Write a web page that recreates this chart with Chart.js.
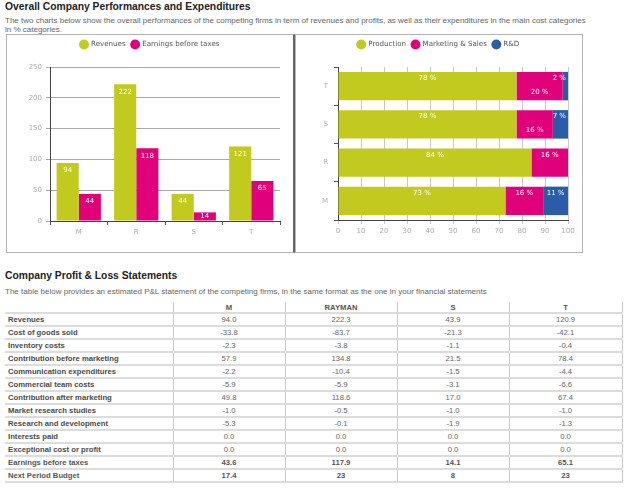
<!DOCTYPE html>
<html>
<head>
<meta charset="utf-8">
<script src="https://cdn.jsdelivr.net/npm/chart.js@4.4.0/dist/chart.umd.min.js"></script>
<style>
  html, body { margin:0; padding:0; background:#fff; width:627px; height:490px; overflow:hidden; }
  body { position:relative; font-family: "Liberation Sans", Arial, sans-serif; }
  .h { position:absolute; left:5px; font-weight:bold; font-size:10.3px; color:#222; margin:0; white-space:nowrap; }
  .sub { position:absolute; left:5px; font-size:8px; color:#666; line-height:8.5px; width:615px; }
  .box { position:absolute; top:34px; height:217px; border:1px solid #b4b4b4; }
  #boxL { left:6px; width:286px; border-right:2px solid #666; }
  #boxR { left:295px; width:286px; }
  canvas { position:absolute; }
  table { position:absolute; left:5px; top:302px; border-collapse:collapse; width:617px; font-size:7.7px; table-layout:fixed; }
  th { font-weight:bold; color:#555; height:10px; padding:0; text-align:center; border-left:1px solid #c8c8c8; }
  th.lab { border-left:none; }
  td { height:11px; padding:0; border-top:2px solid #dcdcdc; border-bottom:2px solid #dcdcdc; border-left:1px solid #c8c8c8; text-align:center; color:#666; }
  td.lab { text-align:left; padding-left:3px; font-weight:bold; color:#4a4a4a; border-left:none; }
  td.last { border-right:1px solid #c8c8c8; }
  th.last { border-right:1px solid #c8c8c8; }
  tr.bold td { font-weight:bold; color:#555; }
</style>
</head>
<body>
<div class="h" style="top:1px;">Overall Company Performances and Expenditures</div>
<div class="sub" style="top:17px;">The two charts below show the overall performances of the competing firms in term of revenues and profits, as well as their expenditures in the main cost categories<br>in % categories.</div>
<div class="box" id="boxL"></div>
<div class="box" id="boxR"></div>
<canvas id="c1" style="left:7px;top:35px;width:286px;height:216px;" width="286" height="216"></canvas>
<canvas id="c2" style="left:296px;top:35px;width:285px;height:216px;" width="285" height="216"></canvas>

<div class="h" style="top:270px;">Company Profit &amp; Loss Statements</div>
<div class="sub" style="top:288px;">The table below provides an estimated P&amp;L statement of the competing firms, in the same format as the one in your financial statements</div>
<table id="pl"></table>

<script>
// ---------- data ----------
const firms = ['M', 'R', 'S', 'T'];
const revenues = [94, 222, 44, 121];
const earnings = [44, 118, 14, 65];

const costFirms = ['M', 'R', 'S', 'T'];
const production = [72.8, 84.1, 77.6, 77.6];
const marketing = [16.4, 15.9, 15.8, 20.1];
const rnd = [10.8, 0, 6.6, 2.3];

const tableHeaders = ['M', 'RAYMAN', 'S', 'T'];
const rowLabels = ['Revenues', 'Cost of goods sold', 'Inventory costs', 'Contribution before marketing',
  'Communication expenditures', 'Commercial team costs', 'Contribution after marketing',
  'Market research studies', 'Research and development', 'Interests paid',
  'Exceptional cost or profit', 'Earnings before taxes', 'Next Period Budget'];
const colM = ['94.0', '-33.8', '-2.3', '57.9', '-2.2', '-5.9', '49.8', '-1.0', '-5.3', '0.0', '0.0', '43.6', '17.4'];
const colR = ['222.3', '-83.7', '-3.8', '134.8', '-10.4', '-5.9', '118.6', '-0.5', '-0.1', '0.0', '0.0', '117.9', '23'];
const colS = ['43.9', '-21.3', '-1.1', '21.5', '-1.5', '-3.1', '17.0', '-1.0', '-1.9', '0.0', '0.0', '14.1', '8'];
const colT = ['120.9', '-42.1', '-0.4', '78.4', '-4.4', '-6.6', '67.4', '-1.0', '-1.3', '0.0', '0.0', '65.1', '23'];
const boldRows = ['Earnings before taxes', 'Next Period Budget'];

// ---------- colours ----------
const LIME = '#c2c91f', MAG = '#e0007a', BLUE = '#2a5ca8';
const FONT = '"DejaVu Sans", Verdana, sans-serif';

// ---------- table ----------
(function () {
  const t = document.getElementById('pl');
  let html = '<colgroup><col style="width:168px"><col style="width:112px"><col style="width:112px"><col style="width:112px"><col style="width:113px"></colgroup>';
  html += '<tr><th class="lab"></th>' + tableHeaders.map((h, i) => '<th' + (i === 3 ? ' class="last"' : '') + '>' + h + '</th>').join('') + '</tr>';
  const cols = [colM, colR, colS, colT];
  rowLabels.forEach((lab, r) => {
    html += '<tr' + (boldRows.includes(lab) ? ' class="bold"' : '') + '><td class="lab">' + lab + '</td>' +
      cols.map((c, i) => '<td' + (i === 3 ? ' class="last"' : '') + '>' + c[r] + '</td>').join('') + '</tr>';
  });
  t.innerHTML = html;
})();

Chart.defaults.font.family = FONT;
Chart.defaults.font.size = 7;
Chart.defaults.animation = false;

// legend block: fixed height, centred across the whole canvas
const legendHeight = {
  id: 'legendHeight',
  beforeLayout(chart, args, opts) {
    const lg = chart.legend;
    if (lg && !lg._fixedH) {
      lg._fixedH = true;
      const origFit = lg.fit;
      lg.fit = function () {
        origFit.call(this);
        this.height = opts.h;
      };
    }
  },
  afterLayout(chart) {
    const lg = chart.legend;
    if (lg) {
      lg.left = 0;
      lg.right = chart.width;
      lg.width = chart.width;
      if (lg.adjustHitBoxes) lg.adjustHitBoxes();
    }
  }
};

// ---------- left chart labels ----------
const vLabels = {
  id: 'vLabels',
  afterDatasetsDraw(chart) {
    const ctx = chart.ctx;
    ctx.save();
    ctx.fillStyle = '#fff';
    ctx.font = '7px ' + FONT;
    ctx.textAlign = 'center';
    ctx.textBaseline = 'middle';
    chart.data.datasets.forEach((ds, di) => {
      chart.getDatasetMeta(di).data.forEach((bar, i) => {
        const y = Math.min(bar.y + 7.5, (bar.y + bar.base) / 2);
        ctx.fillText(String(ds.data[i]), bar.x, y);
      });
    });
    ctx.restore();
  }
};

// ---------- right chart labels ----------
const hLabels = {
  id: 'hLabels',
  afterDatasetsDraw(chart) {
    const ctx = chart.ctx;
    const area = chart.chartArea;
    ctx.save();
    ctx.fillStyle = '#fff';
    ctx.font = '7px ' + FONT;
    ctx.textAlign = 'center';
    ctx.textBaseline = 'middle';
    const n = chart.data.labels.length;
    for (let i = 0; i < n; i++) {
      const items = [];
      chart.data.datasets.forEach((ds, di) => {
        const v = ds.data[i];
        if (!v) return;
        const bar = chart.getDatasetMeta(di).data[i];
        const txt = Math.round(v) + ' %';
        const w = ctx.measureText(txt).width;
        const segW = Math.abs(bar.x - bar.base);
        let cx = (bar.x + bar.base) / 2;
        let clamped = false;
        if (w + 4 > segW) {
          cx = Math.min(cx, area.right - 2 - w / 2);
          clamped = true;
        }
        items.push({ txt, cx, y: bar.y - bar.height / 2 + 6.5, clamped });
      });
      for (let k = items.length - 1; k > 0; k--) {
        if (items[k].clamped) items[k - 1].y += 14;
      }
      items.forEach(it => ctx.fillText(it.txt, it.cx, it.y));
    }
    ctx.restore();
  }
};

const legendOpts = {
  position: 'top',
  labels: { usePointStyle: true, pointStyle: 'circle', boxWidth: 7, boxHeight: 7, padding: 6, color: '#555', font: { size: 7.1 } }
};

// ---------- left chart ----------
new Chart(document.getElementById('c1'), {
  type: 'bar',
  data: {
    labels: firms,
    datasets: [
      { label: 'Revenues', data: revenues, backgroundColor: LIME },
      { label: 'Earnings before taxes', data: earnings, backgroundColor: MAG }
    ]
  },
  options: {
    responsive: false,
    devicePixelRatio: 1,
    layout: { padding: { left: 0, right: 13, top: 0, bottom: 0 } },
    datasets: { bar: { barPercentage: 1, categoryPercentage: 0.77 } },
    plugins: {
      tooltip: { enabled: false },
      legend: legendOpts,
      legendHeight: { h: 32 }
    },
    scales: {
      x: {
        afterFit(s) { s.height = 30; },
        grid: { display: true, drawOnChartArea: false, offset: true, tickLength: 4, color: '#555' },
        border: { color: '#444', width: 1 },
        ticks: { color: '#aaa', padding: 3, font: { size: 7 } }
      },
      y: {
        min: 0, max: 250,
        afterFit(s) { s.width = 43; },
        grid: { color: '#a8a8a8', tickLength: 4 },
        border: { color: '#444', width: 1 },
        ticks: { stepSize: 50, color: '#aaa', padding: 4, font: { size: 7 } }
      }
    }
  },
  plugins: [legendHeight, vLabels]
});

// ---------- right chart ----------
new Chart(document.getElementById('c2'), {
  type: 'bar',
  data: {
    labels: costFirms,
    datasets: [
      { label: 'Production', data: production, backgroundColor: LIME },
      { label: 'Marketing & Sales', data: marketing, backgroundColor: MAG },
      { label: 'R&D', data: rnd, backgroundColor: BLUE }
    ]
  },
  options: {
    indexAxis: 'y',
    responsive: false,
    devicePixelRatio: 1,
    layout: { padding: { left: 0, right: 13, top: 0, bottom: 0 } },
    datasets: { bar: { barPercentage: 1, categoryPercentage: 0.745 } },
    plugins: {
      tooltip: { enabled: false },
      legend: legendOpts,
      legendHeight: { h: 32 }
    },
    scales: {
      x: {
        stacked: true, min: 0, max: 100,
        afterFit(s) { s.height = 31; },
        grid: { color: '#c8c8c8', tickLength: 4 },
        border: { color: '#444', width: 1 },
        ticks: { stepSize: 10, color: '#aaa', padding: 3, font: { size: 7 } }
      },
      y: {
        stacked: true, reverse: true,
        afterFit(s) { s.width = 42; },
        grid: { display: true, drawOnChartArea: false, offset: true, tickLength: 4, color: '#555' },
        border: { color: '#444', width: 1 },
        ticks: { color: '#aaa', padding: 6, font: { size: 7 } }
      }
    }
  },
  plugins: [legendHeight, hLabels]
});
</script>
</body>
</html>
